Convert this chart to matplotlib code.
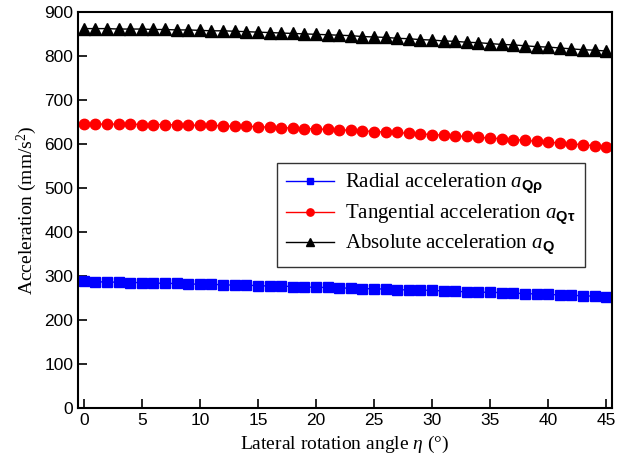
import matplotlib
matplotlib.use('Agg')
import matplotlib.pyplot as plt

# lateral rotation angle, degrees
eta = list(range(46))

# accelerations (mm/s^2)
a_radial = [288, 287, 286, 286, 285, 285, 284, 283, 283, 282,
            281, 281, 280, 279, 279, 278, 277, 277, 276, 275,
            274, 274, 273, 272, 271, 271, 270, 269, 268, 268,
            267, 266, 265, 264, 263, 263, 262, 261, 260, 259,
            258, 257, 256, 255, 254, 253]
a_tangential = [645, 645, 645, 645, 645, 644, 644, 644, 643, 643,
                642, 642, 641, 640, 640, 639, 638, 637, 636, 635,
                634, 633, 632, 631, 630, 628, 627, 626, 624, 623,
                621, 620, 618, 617, 615, 613, 612, 610, 608, 606,
                604, 602, 600, 598, 596, 594]
a_absolute = [862, 862, 862, 861, 861, 861, 860, 860, 859, 859,
              858, 857, 857, 856, 855, 854, 853, 852, 851, 850,
              849, 848, 847, 846, 844, 843, 842, 840, 839, 837,
              836, 834, 833, 831, 830, 828, 826, 825, 823, 821,
              820, 818, 816, 814, 813, 811]

labels = [r'Radial acceleration $a_{\mathsf{Qρ}}$',
          r'Tangential acceleration $a_{\mathsf{Qτ}}$',
          r'Absolute acceleration $a_{\mathsf{Q}}$']

plt.rcParams['mathtext.fontset'] = 'custom'
plt.rcParams['mathtext.rm'] = 'Liberation Serif'
plt.rcParams['mathtext.it'] = 'Liberation Serif:italic'
plt.rcParams['mathtext.sf'] = 'Liberation Sans:bold'

fig = plt.figure(figsize=(6.26, 4.66), dpi=100)
ax = fig.add_axes([0.1246, 0.1245, 0.853, 0.85])

ax.plot(eta, a_radial, color='blue', marker='s', markersize=7, lw=1, label=labels[0])
ax.plot(eta, a_tangential, color='red', marker='o', markersize=7.5, lw=1, label=labels[1])
ax.plot(eta, a_absolute, color='black', marker='^', markersize=9, lw=1, label=labels[2])

ax.set_xlim(-0.5, 45.5)
ax.set_ylim(0, 900)
ax.set_xticks(range(0, 46, 5))
ax.set_yticks(range(0, 901, 100))
ax.tick_params(direction='in', length=6.5, width=1.2, labelsize=12.5, top=False, right=False)
for lab in ax.get_xticklabels() + ax.get_yticklabels():
    lab.set_family('Liberation Sans')
for s in ax.spines.values():
    s.set_linewidth(1.5)

ax.set_xlabel(r'Lateral rotation angle $\eta$ (°)', family='Liberation Serif', fontsize=14)
ax.set_ylabel(r'Acceleration (mm/s$^2$)', family='Liberation Serif', fontsize=14)

leg = ax.legend(loc='upper right', bbox_to_anchor=(0.949, 0.619), borderaxespad=0,
                frameon=True, fancybox=False, edgecolor='black',
                prop={'family': 'Liberation Serif', 'size': 15}, markerscale=0.7,
                handlelength=2.3, handletextpad=0.5, borderpad=0.45, labelspacing=0.3)
leg.get_frame().set_linewidth(1.0)

fig.savefig('out.png', dpi=100)
